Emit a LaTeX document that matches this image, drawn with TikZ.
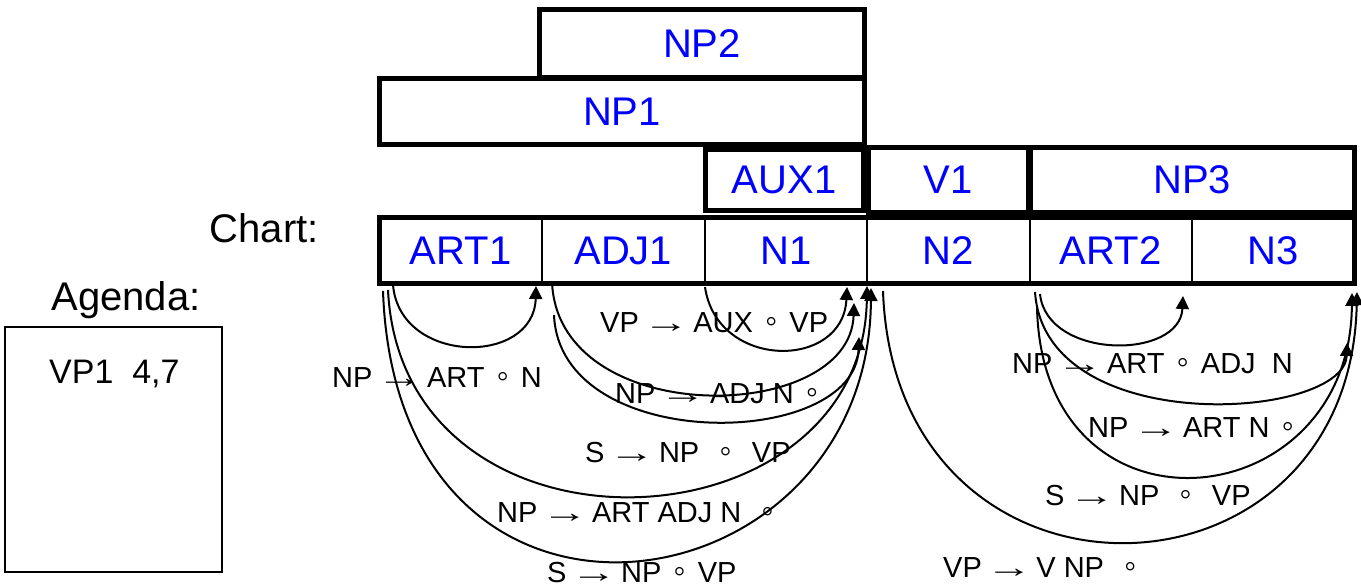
\documentclass[tikz,border=0pt]{standalone}
\usepackage{fontspec}
\usepackage{graphicx}
\setmainfont{Liberation Sans}
\usetikzlibrary{arrows.meta}
\newcommand\rarr{\kern-4pt\scalebox{1.6}[1]{→}\kern-4pt}
\newcommand\cc{\kern4pt\scalebox{1.2}{◦}\kern4pt}
\begin{document}
\begin{tikzpicture}[x=1pt,y=-1pt,
  big/.style={font=\fontsize{40}{48}\selectfont, inner sep=0pt},
  lab/.style={font=\fontsize{40}{48}\selectfont, text=blue},
  box/.style={draw, line width=5pt, inner sep=0pt, outer sep=0pt, lab},
  cell/.style={draw, line width=2pt, inner sep=0pt, outer sep=0pt, minimum width=162.5pt, minimum height=66.5pt, lab},
  rule/.style={font=\fontsize{29}{34}\selectfont, anchor=base west, inner sep=0pt},
  arc/.style={line width=2pt, -{Triangle[length=13pt,width=13pt]}},
]
\useasboundingbox (0,0) rectangle (1361,588);

% upper edges
\node[box, minimum width=325pt, minimum height=68pt] (np2) at (702,44) {NP2};
\node[box, minimum width=485pt, minimum height=66pt] (np1) at (622,111.5) {NP1};
\node[box, minimum width=158pt, minimum height=61.5pt] (aux1) at (784,180.25) {AUX1};
\node[box, minimum width=160.5pt, minimum height=65pt] (v1) at (948.25,180) {V1};
\node[box, minimum width=324.5pt, minimum height=65pt] (np3) at (1192.25,180) {NP3};

% chart row
\node[cell] (art1) at (460.75,250.75) {ART1};
\node[cell] (adj1) at (623.25,250.75) {ADJ1};
\node[cell] (n1) at (785.75,250.75) {N1};
\node[cell] (n2) at (948.25,250.75) {N2};
\node[cell] (art2) at (1110.75,250.75) {ART2};
\node[cell] (n3) at (1273.25,250.75) {N3};
\draw[line width=5pt] (art1.north west) rectangle (n3.south east);

% left labels
\node[big, anchor=base east] (chart) at (319,243) {Chart:};
\node[big, anchor=base] (agenda) at (126,310) {Agenda:};
\node[draw, line width=2pt, minimum width=217pt, minimum height=245pt, inner sep=0pt] (agbox) at (113.5,449.5) {};
\node[font=\fontsize{34}{40}\selectfont, anchor=base west, inner sep=0pt] (vp1) at (49,383) {VP1\ \ 4,7};

% arc end points
\coordinate (s1) at (393,285);  \coordinate (e1) at (536,286);
\coordinate (s2) at (388,290);  \coordinate (e2) at (867,286);
\coordinate (s3) at (383,291);  \coordinate (e3) at (871,288);
\coordinate (s4) at (552,282);  \coordinate (e4) at (854,303);
\coordinate (s5) at (554,315);  \coordinate (e5) at (859,337);
\coordinate (s6) at (705,287);  \coordinate (e6) at (847,287);
\coordinate (s7) at (883,291);  \coordinate (e7) at (1357,292);
\coordinate (s8) at (1040,294); \coordinate (e8) at (1183,296);
\coordinate (s9) at (1035,292); \coordinate (e9) at (1347,343);
\coordinate (s10) at (1037,307); \coordinate (e10) at (1352,293);

\draw[arc] (s1) .. controls +(7,80) and +(-2,80) .. (e1);
\draw[arc] (s2) .. controls +(14,285) and +(-3,269) .. (e2);
\draw[arc] (s3) .. controls +(14,396) and +(-2,326) .. (e3);
\draw[arc] (s4) .. controls +(6,148) and +(-4,122) .. (e4);
\draw[arc] (s5) .. controls +(6,140) and +(-4,113) .. (e5);
\draw[arc] (s6) .. controls +(12,83) and +(-4,83) .. (e6);
\draw[arc] (s7) .. controls +(12,339) and +(-7,328) .. (e7);
\draw[arc] (s8) .. controls +(7,66) and +(-3,64) .. (e8);
\draw[arc] (s9) .. controls +(10,148) and +(-2,77) .. (e9);
\draw[arc] (s10) .. controls +(5,243) and +(-2,227) .. (e10);

% rule labels
\node[rule] (ra) at (332,387) {NP \rarr\ ART \cc\ N};
\node[rule] (rb) at (600,332) {VP \rarr\ AUX \cc\ VP};
\node[rule] (rc) at (615,403) {NP \rarr\ ADJ N \cc};
\node[rule] (rd) at (585,462) {S \rarr\ NP\ \ \cc\ \ VP};
\node[rule] (re) at (497,522) {NP \rarr\ ART ADJ N\ \ \cc};
\node[rule] (rf) at (547,582) {S \rarr\ NP \cc\ VP};
\node[rule] (rg) at (1012,373) {NP \rarr\ ART \cc\ ADJ\ \ N};
\node[rule] (rh) at (1088,437) {NP \rarr\ ART N \cc};
\node[rule] (ri) at (1045,505) {S \rarr\ NP\ \ \cc\ \ VP};
\node[rule] (rj) at (943,577) {VP \rarr\ V NP\ \ \cc};
\end{tikzpicture}
\end{document}
